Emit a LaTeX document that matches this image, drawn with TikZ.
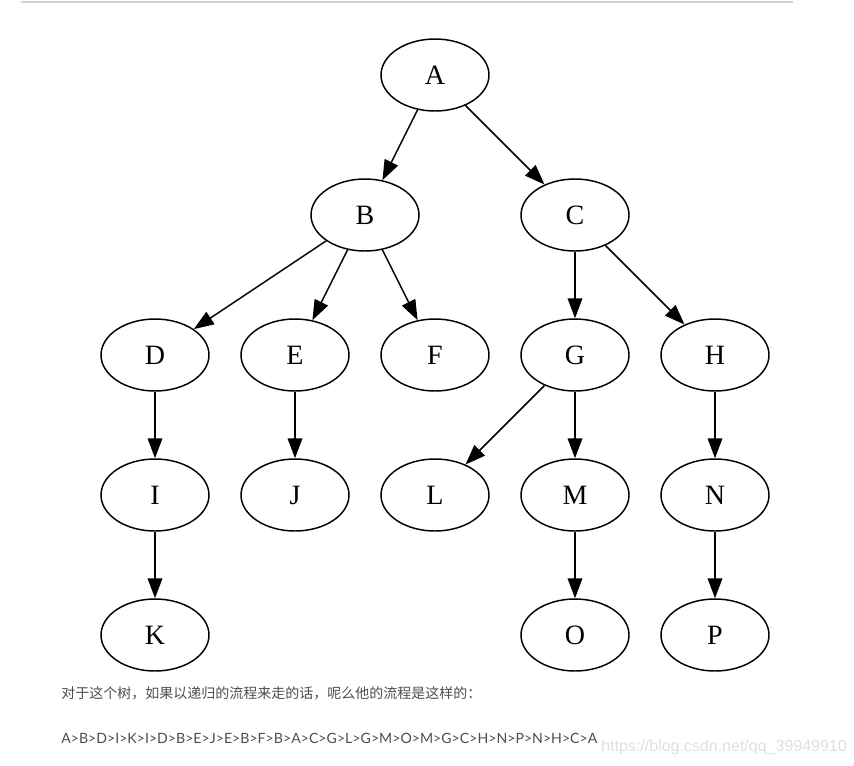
\documentclass[tikz,border=0pt]{standalone}
\usepackage{fontspec}
\usepackage{tikz}
\usetikzlibrary{shapes.geometric,arrows.meta}
\setmainfont{Liberation Serif}
\newfontfamily\cjk{Noto Sans CJK SC}
\newfontfamily\latofont{Lato}
\newfontfamily\markfont{Liberation Sans}
\definecolor{textgray}{HTML}{4D4D4D}

\begin{document}
\begin{tikzpicture}[x=0.75pt,y=-0.75pt]
    \tikzstyle{every node}+=[inner sep=0pt]
    \tikzstyle{tnode}=[draw=black,ellipse,line width=1.1pt,minimum width=81pt,minimum height=54pt,font=\fontsize{21}{21}\selectfont]
    \tikzstyle{tedge}=[draw=black,line width=1.1pt,-{Triangle[length=15pt,width=11pt]}]
    \useasboundingbox (0,0) rectangle (854,765);
    \draw [gray!35,line width=1.2pt] (21,2) -- (793,2);
    % tree nodes
    \node [tnode] (A) at (435,75) {A};
    \node [tnode] (B) at (365,215) {B};
    \node [tnode] (C) at (575,215) {C};
    \node [tnode] (D) at (155,355) {D};
    \node [tnode] (E) at (295,355) {E};
    \node [tnode] (F) at (435,355) {F};
    \node [tnode] (G) at (575,355) {G};
    \node [tnode] (H) at (715,355) {H};
    \node [tnode] (I) at (155,495) {I};
    \node [tnode] (J) at (295,495) {J};
    \node [tnode] (L) at (435,495) {L};
    \node [tnode] (M) at (575,495) {M};
    \node [tnode] (N) at (715,495) {N};
    \node [tnode] (K) at (155,635) {K};
    \node [tnode] (O) at (575,635) {O};
    \node [tnode] (P) at (715,635) {P};
    % edges
    \draw [tedge] (A) -- (B);
    \draw [tedge] (A) -- (C);
    \draw [tedge] (B) -- (D);
    \draw [tedge] (B) -- (E);
    \draw [tedge] (B) -- (F);
    \draw [tedge] (C) -- (G);
    \draw [tedge] (C) -- (H);
    \draw [tedge] (D) -- (I);
    \draw [tedge] (E) -- (J);
    \draw [tedge] (G) -- (L);
    \draw [tedge] (G) -- (M);
    \draw [tedge] (H) -- (N);
    \draw [tedge] (I) -- (K);
    \draw [tedge] (M) -- (O);
    \draw [tedge] (N) -- (P);
    % text below
    \node [anchor=west,text=textgray,font=\cjk\fontsize{10.5}{12}\selectfont] (caption) at (61,693) {对于这个树，如果以递归的流程来走的话，呢么他的流程是这样的：};
    \node [anchor=west,text=textgray,font=\latofont\fontsize{10.6}{12}\selectfont] (order) at (61,738) {A>B>D>I>K>I>D>B>E>J>E>B>F>B>A>C>G>L>G>M>O>M>G>C>H>N>P>N>H>C>A};
    \node [anchor=west,text=gray!25,font=\markfont\fontsize{12}{12}\selectfont] (mark) at (601,747) {https://blog.csdn.net/qq\_39949910};
\end{tikzpicture}
\end{document}
